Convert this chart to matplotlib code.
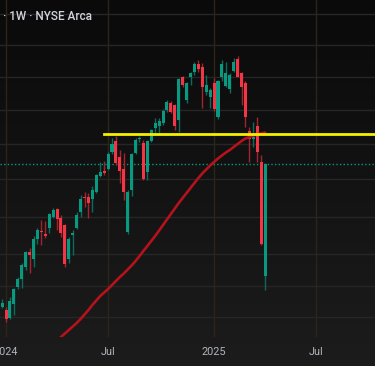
import matplotlib
matplotlib.use("Agg")
import matplotlib.pyplot as plt
import matplotlib.dates as mdates
import numpy as np
import pandas as pd

# ---------------- data (weekly candles, price units) ----------------
week_start = "2023-12-25"
n_weeks = 68
opens = [193.3, 190, 182, 196, 213.3, 221, 233.3, 248.3, 241.3, 261.3,
         269, 266.3, 272.3, 283.3, 291, 282.3, 274.7, 241, 265, 271.7,
         288, 303, 303, 300.7, 308, 324, 329, 330.7, 347.7, 359.3,
         343.3, 331, 267.7, 310, 346.7, 360.7, 357.3, 328.3, 359.3, 372,
         374, 376.7, 390, 396.7, 395, 380, 422.7, 400, 422.7, 427.7,
         436, 432.7, 407.7, 403.3, 416.7, 382.7, 423.3, 414.3, 410.7, 429.3,
         440.7, 426.7, 417.3, 369, 360.7, 374.3, 337.7, 224.3]
highs = [200.7, 192.7, 202.7, 211.7, 223.3, 236.7, 249, 252.3, 264.3, 271.7,
         280, 279, 286.7, 291.7, 291.7, 285, 276, 263.3, 270, 288.3,
         304.7, 308, 306.7, 314.3, 326, 338.3, 339, 347.7, 361.7, 364,
         350, 346.7, 310, 346.7, 361.7, 364, 360, 360, 371, 382,
         382, 391, 400, 399, 396, 422, 424, 418, 428, 438,
         440, 437, 425, 412, 422, 420, 440, 438, 427, 442,
         444, 428, 419, 373, 378.3, 383.3, 345, 337]
lows = [191.7, 178.3, 181.3, 185, 211.3, 212, 230, 227.3, 233.3, 256,
        255, 261.7, 267.3, 282.3, 270, 263.3, 233.3, 236.7, 245, 271,
        283.3, 293.3, 281.7, 288.3, 307.3, 323.3, 325, 330, 346, 335,
        316.7, 300, 266, 304.3, 345.7, 358, 320, 320, 358, 367,
        367, 375, 388, 387, 370, 368, 413, 397, 415, 425,
        428, 392, 405, 392, 389, 381, 419, 413, 407.3, 428,
        422.7, 395, 373.3, 338.3, 353.3, 338.3, 255, 210]
closes = [196.7, 181.3, 199.3, 211, 221, 235, 248, 244.7, 260.7, 270,
          267.7, 264.3, 286, 290, 281, 266.7, 236, 261.3, 267.3, 285.3,
          301.3, 301.7, 297.3, 309.7, 325, 328.3, 327.3, 346, 355.7, 336.7,
          329, 307.7, 307.7, 345.7, 360, 362.3, 320.7, 359.3, 370, 377,
          379, 389.3, 398.3, 388.3, 374, 420.7, 415, 417, 427.3, 435.7,
          430.7, 413, 415, 410, 391, 419.3, 436, 426.7, 425, 438.3,
          423.3, 413.3, 382.7, 360.7, 363, 348.3, 256, 336]

# moving average, starting at week index 14
ma_start = 14
ma_values = [159.5, 163, 166.5, 170, 173.5, 177, 181, 185.5, 190, 195,
             199.5, 204, 207.5, 211, 215, 219, 223, 226.5, 230.5, 234.5,
             239, 244, 249, 254, 259, 264, 269.5, 275, 280.5, 286,
             291.5, 297, 302, 307, 312, 317, 322, 326.5, 330.5, 334.5,
             338, 341.5, 344.5, 347.5, 350, 353, 356, 359, 361.5, 363,
             364.5, 365.5, 366.5, 367.5]

level_price = 365.7          # yellow horizontal level
level_start = "2024-06-23"
last_price = 336.5           # dotted last-price line
grid_prices = [486, 455, 423, 390, 356, 321, 283, 246, 214, 183]
tick_dates = ["2024-01-01", "2024-07-01", "2025-01-06", "2025-07-07"]
tick_labels = ["2024", "Jul", "2025", "Jul"]
title = "· 1W · NYSE Arca"

# ---------------- figure ----------------
W, H = 375, 366
fig = plt.figure(figsize=(W / 100, H / 100), dpi=100)
fig.patch.set_facecolor("#101010")

# background gradient
bg = fig.add_axes([0, 0, 1, 1], zorder=0)
grad = np.linspace(0, 1, 256).reshape(-1, 1)
from matplotlib.colors import LinearSegmentedColormap
cmap = LinearSegmentedColormap.from_list("bg", ["#0a0a0a", "#1c1c1c"])
bg.imshow(grad, aspect="auto", cmap=cmap, extent=[0, 1, 1, 0])
bg.set_axis_off()

bottom_frac = (H - 337) / H
ax = fig.add_axes([0, bottom_frac, 1, 1 - bottom_frac], zorder=1)
ax.set_facecolor("none")
for s in ax.spines.values():
    s.set_visible(False)

dates = pd.date_range(week_start, periods=n_weeks, freq="7D")
x = mdates.date2num(dates.to_pydatetime())
o = np.array(opens); h = np.array(highs); l = np.array(lows); c = np.array(closes)

x0 = mdates.date2num(pd.Timestamp(week_start)) - 3.75
x1 = mdates.date2num(pd.Timestamp(week_start)) + 665
ax.set_xlim(x0, x1)
ax.set_ylim(163, 500)

# grid
for gp in grid_prices:
    ax.axhline(gp, color="#262626", lw=1, zorder=1)
tx = mdates.date2num(pd.to_datetime(tick_dates).to_pydatetime())
for t in tx:
    ax.axvline(t, color="#2e2519", lw=1, zorder=1)

up = c >= o
teal = "#089981"
red = "#f23645"
cols = np.where(up, teal, red)
wick_cols = np.where(up, "#0b6b5c", "#a3232f")

ax.vlines(x, l, h, colors=wick_cols, lw=1, zorder=3)
body_lo = np.minimum(o, c)
body_h = np.maximum(np.abs(c - o), 0.9)
ax.bar(x, body_h, bottom=body_lo, width=5.4, color=cols, linewidth=0, zorder=4)

# moving average
ma_x = x[ma_start:ma_start + len(ma_values)]
ax.plot(ma_x, ma_values, color="#b5121b", lw=1.9, zorder=5, solid_capstyle="round")

# yellow level line
ls = mdates.date2num(pd.Timestamp(level_start))
ax.plot([ls, x1], [level_price, level_price], color="#f5f000", lw=2.0, zorder=6)

# dotted last price line
ax.axhline(last_price, color=teal, lw=1, ls=(0, (1, 1.6)), zorder=2)

ax.set_yticks([])
ax.set_xticks(tx)
ax.set_xticklabels(tick_labels, fontsize=7.8, color="#b2b5be", family=["Roboto", "DejaVu Sans"])
ax.tick_params(axis="x", length=0, pad=7)

fig.text(3 / W, 1 - 17 / H, title, color="#d1d4dc", fontsize=8.5,
         fontweight="medium", family=["Roboto", "DejaVu Sans"], va="center", ha="left")

fig.savefig("out.png", dpi=100, facecolor=fig.get_facecolor())
